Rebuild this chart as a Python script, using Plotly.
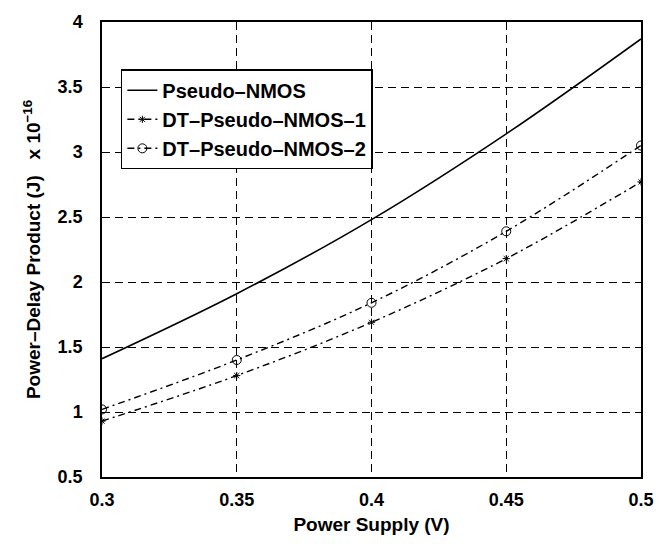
import plotly.graph_objects as go

supply_v = [0.3, 0.35, 0.4, 0.45, 0.5]
pseudo_nmos = [1.41, 1.91, 2.48, 3.14, 3.87]
dt_pseudo_nmos_1 = [0.93, 1.28, 1.69, 2.18, 2.77]
dt_pseudo_nmos_2 = [1.02, 1.40, 1.84, 2.39, 3.05]

x_ticks = [0.3, 0.35, 0.4, 0.45, 0.5]
x_tick_text = ["0.3", "0.35", "0.4", "0.45", "0.5"]
y_ticks = [0.5, 1, 1.5, 2, 2.5, 3, 3.5, 4]
y_tick_text = ["0.5", "1", "1.5", "2", "2.5", "3", "3.5", "4"]

FONT = "Liberation Sans, Arial, sans-serif"

fig = go.Figure()
fig.add_trace(go.Scatter(
    x=supply_v, y=pseudo_nmos, name="<b>Pseudo–NMOS</b>", mode="lines",
    line=dict(color="black", width=1.6, shape="spline")))
fig.add_trace(go.Scatter(
    x=supply_v, y=dt_pseudo_nmos_1, name="<b>DT–Pseudo–NMOS–1</b>", mode="lines+markers",
    line=dict(color="black", width=1.4, dash="7px,4px,2px,4px", shape="spline"),
    marker=dict(symbol="asterisk", size=6, color="black", line=dict(color="black", width=1))))
fig.add_trace(go.Scatter(
    x=supply_v, y=dt_pseudo_nmos_2, name="<b>DT–Pseudo–NMOS–2</b>", mode="lines+markers",
    line=dict(color="black", width=1.4, dash="7px,4px,2px,4px", shape="spline"),
    marker=dict(symbol="circle-open", size=9, color="black", line=dict(color="black", width=1))))

axis_common = dict(
    showline=True, linecolor="black", linewidth=1.5, mirror=True,
    showgrid=True, gridcolor="black", gridwidth=1, griddash="8px,5px",
    zeroline=False, ticks="", tickfont=dict(family=FONT, size=18, color="black", weight="bold"),
)

fig.update_xaxes(
    range=[0.3, 0.5], tickvals=x_ticks, ticktext=x_tick_text, ticklabelstandoff=6,
    title=dict(text="<b>Power Supply (V)</b>", font=dict(family=FONT, size=19, color="black"), standoff=8),
    **axis_common)
fig.update_yaxes(
    range=[0.5, 4], tickvals=y_ticks, ticktext=y_tick_text, ticklabelstandoff=14,
    title=dict(text="<b>Power–Delay Product (J)   x 10<sup>−16</sup></b>",
               font=dict(family=FONT, size=19, color="black"), standoff=12),
    **axis_common)

fig.update_layout(
    width=666, height=544,
    margin=dict(l=102, r=21, t=20, b=64),
    paper_bgcolor="white", plot_bgcolor="white",
    showlegend=True,
    legend=dict(
        x=0.035, y=0.896, xanchor="left", yanchor="top",
        bgcolor="white", bordercolor="black", borderwidth=1.5,
        font=dict(family=FONT, size=20, color="black"),
        itemwidth=30, tracegroupgap=0,
    ),
)

fig.write_html("out.html")
